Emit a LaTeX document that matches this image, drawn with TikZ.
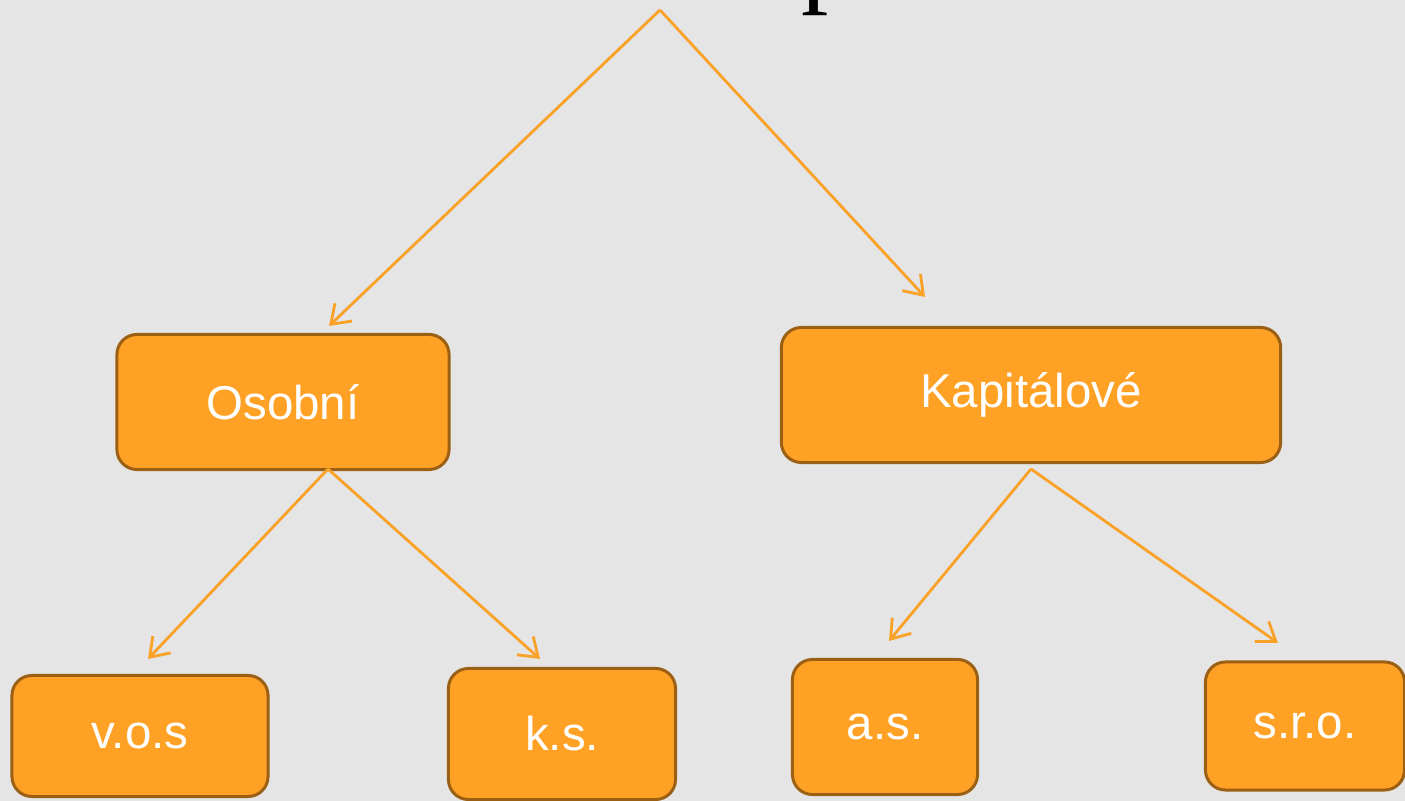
\documentclass[tikz,border=0pt]{standalone}
\usepackage{fontspec}
\setmainfont{Liberation Sans}
\newfontfamily\titlefont{Liberation Serif}
\usetikzlibrary{arrows.meta}

\definecolor{bggray}{RGB}{229,229,229}
\definecolor{boxorange}{RGB}{255,161,36}
\definecolor{boxedge}{RGB}{156,96,20}
\definecolor{arroworange}{RGB}{250,162,40}

\tikzset{
  typebox/.style={draw=boxedge, fill=boxorange, line width=0.85pt,
    rounded corners=5.7pt, text=white, inner sep=0pt,
    font=\fontsize{13.5}{15}\selectfont},
  branch/.style={draw=arroworange, line width=0.8pt,
    -{Straight Barb[length=5pt,width=7pt]}}
}

\begin{document}
\begin{tikzpicture}[x=0.01cm,y=-0.01cm]
                \fill[bggray] (0,0) rectangle (1405,801);
                \useasboundingbox (0,0) rectangle (1405,801);

                % title, only its descender shows
                \node[anchor=base west, inner sep=0pt, font=\titlefont\fontsize{31}{36}\selectfont] (title) at (801,-7) {p};

                \node[typebox, minimum width=3.32cm, minimum height=1.35cm] (osobni) at (283,402) {Osobní};
                \node[typebox, minimum width=4.99cm, minimum height=1.35cm] (kapital) at (1031,395) {Kapitálové};
                \node[typebox, minimum width=2.56cm, minimum height=1.21cm] (vos) at (140,736) {v.o.s};
                \node[typebox, minimum width=2.27cm, minimum height=1.31cm] (ks) at (562,734) {k.s.};
                \node[typebox, minimum width=1.85cm, minimum height=1.35cm] (as) at (885,727) {a.s.};
                \node[typebox, minimum width=1.99cm, minimum height=1.28cm] (sro) at (1305,726) {s.r.o.};

                \coordinate (apex) at (660,10);
                \coordinate (osobni top) at (329,326);
                \coordinate (kapital top) at (925,297);
                \coordinate (osobni foot) at (328,469);
                \coordinate (vos top) at (148,659);
                \coordinate (ks top) at (540,659);
                \coordinate (kapital foot) at (1031,469);
                \coordinate (as top) at (889,641);
                \coordinate (sro top) at (1278,643);

                \draw[branch] (apex) -- (osobni top);
                \draw[branch] (apex) -- (kapital top);
                \draw[branch] (osobni foot) -- (vos top);
                \draw[branch] (osobni foot) -- (ks top);
                \draw[branch] (kapital foot) -- (as top);
                \draw[branch] (kapital foot) -- (sro top);
\end{tikzpicture}
\end{document}
